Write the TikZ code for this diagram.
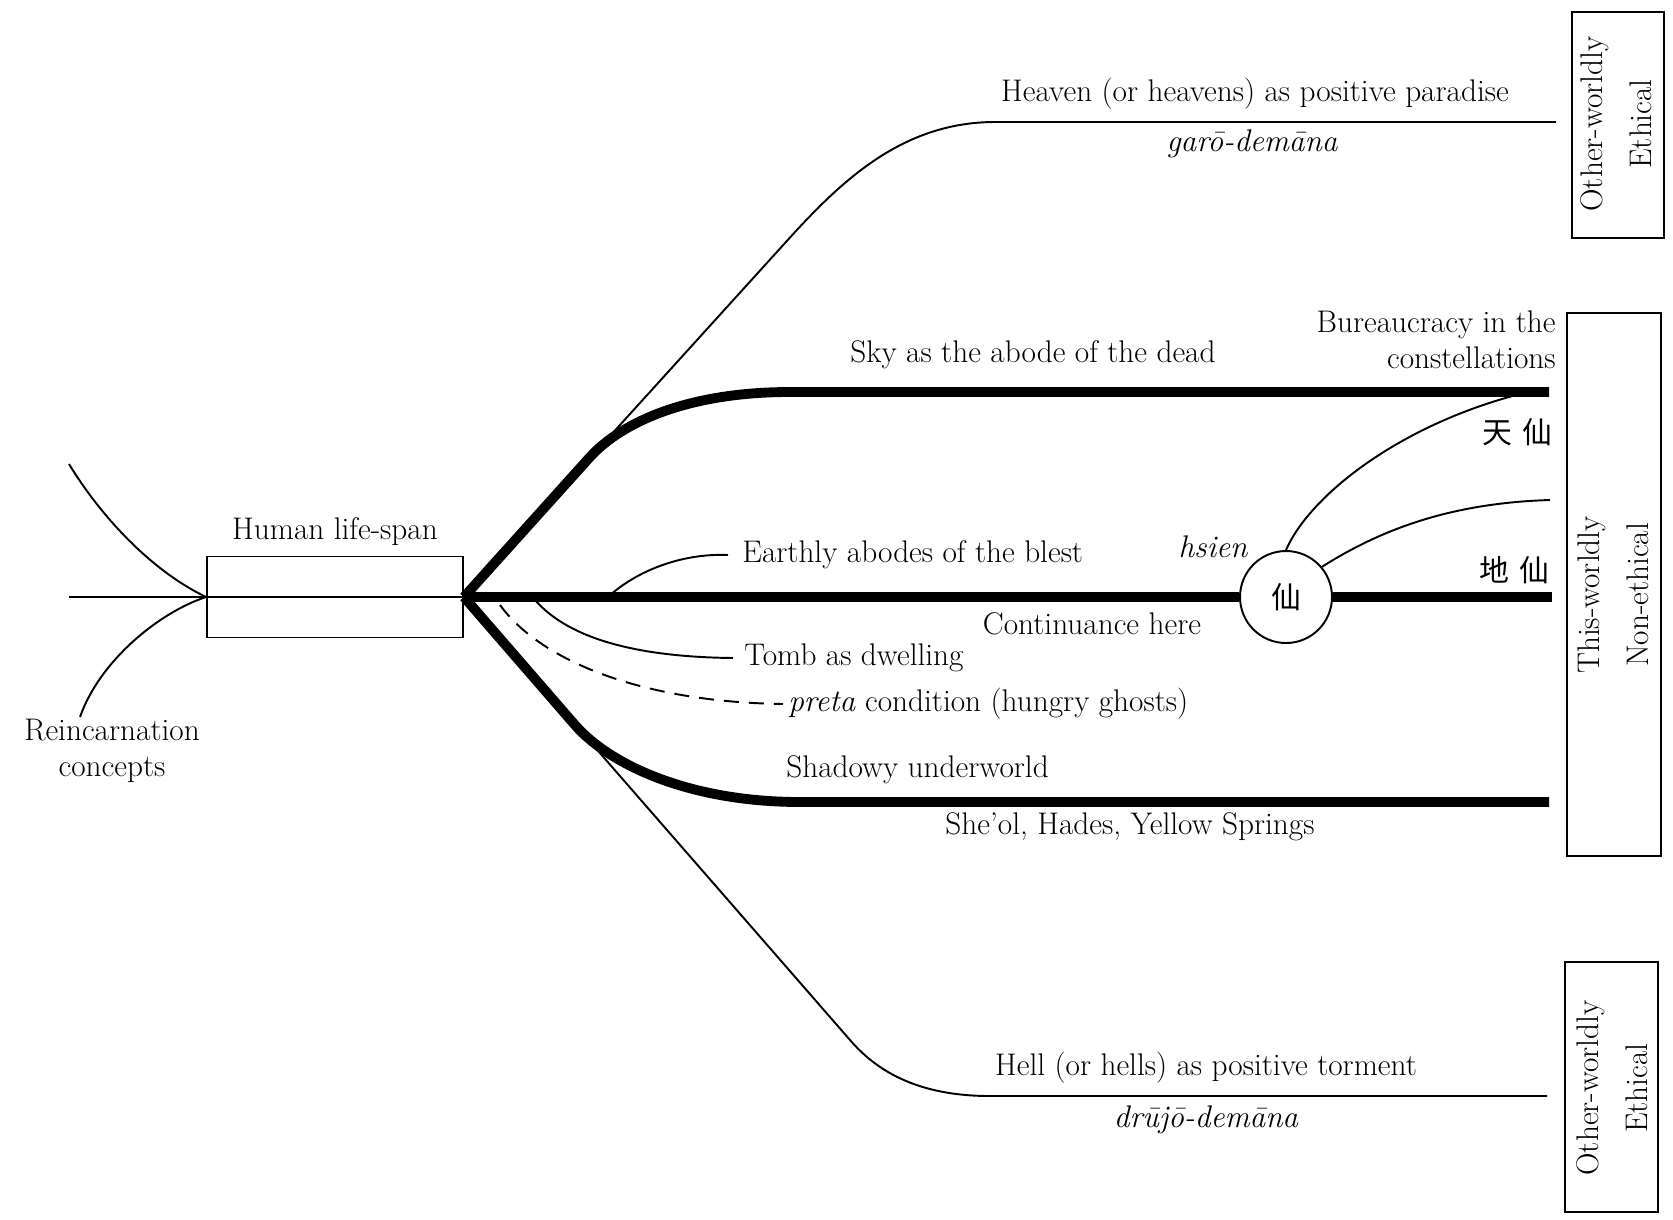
\documentclass[tikz,border=0pt]{standalone}
\usepackage{fontspec}
\newfontfamily\cjk{Noto Sans CJK TC}
\usetikzlibrary{positioning}
\tikzset{
  thinline/.style={line width=1.1pt},
  thickline/.style={line width=5.6pt},
  lbl/.style={inner sep=0pt, font=\fontsize{17.8}{20.5}\selectfont},
  ilbl/.style={inner sep=0pt, font=\fontsize{17.8}{20.5}\selectfont\itshape},
  hanzi/.style={inner sep=0pt, font=\fontsize{17}{19}\selectfont\cjk},
  realm/.style={draw, line width=1.1pt},
  realmtext/.style={lbl, rotate=90, align=center}
}
\begin{document}
\begin{tikzpicture}[x=0.2mm, y=-0.2mm]
	\useasboundingbox (0,0) rectangle (1673,1219);
	% life-span box and reincarnation
	\node[draw, thinline, minimum width=51.2mm, minimum height=16.2mm, inner sep=0pt] (life) at (335,597) {};
	\node[lbl, above=2mm of life] (lifetxt) {Human life-span};
	\coordinate (reincin) at (69,597);
	\coordinate (reincup) at (69,464);
	\coordinate (reincdown) at (80,717);
	\draw[thinline] (reincin) -- (life.east);
	\draw[thinline] (reincup) .. controls (100,515) and (150,570) .. (life.west);
	\draw[thinline] (life.west) .. controls (160,612) and (100,660) .. (reincdown);
	\node[lbl, align=center] (reinc) at (112,751) {Reincarnation\\concepts};
	% branches upward
	\coordinate (heavenend) at (1556,122);
	\coordinate (skyend) at (1549,392);
	\draw[thinline] (life.east) -- (795,232) .. controls (845,178) and (905,122) .. (995,122) -- (heavenend);
	\draw[thickline] (life.east) -- (590,457) .. controls (623,421) and (690,392) .. (790,392) -- (skyend);
	\node[lbl] (heaven) at (1255,94) {Heaven (or heavens) as positive paradise};
	\node[ilbl] (garo) at (1252,144) {garō-demāna};
	\node[lbl] (sky) at (1033,355) {Sky as the abode of the dead};
	\node[lbl, align=right, anchor=east] (bureau) at (1556,340) {Bureaucracy in the\\constellations};
	% continuance here and hsien
	\node[circle, draw, thinline, minimum size=18.4mm, inner sep=0pt, hanzi] (xian) at (1286,597) {仙};
	\coordinate (hereend) at (1552,597);
	\draw[thickline] (life.east) -- (xian.west);
	\draw[thickline] (xian.east) -- (hereend);
	\draw[thinline] (xian.north) .. controls (1310,495) and (1400,425) .. (1520,394);
	\draw[thinline] (xian.40) .. controls (1380,530) and (1450,503) .. (1550,500);
	\node[hanzi, anchor=east] (tianxian) at (1553,432) {天\hspace{0.35em}仙};
	\node[hanzi, anchor=east] (dixian) at (1550,570) {地\hspace{0.35em}仙};
	\node[ilbl] (hsien) at (1213,547) {hsien};
	\node[lbl] (cont) at (1092,624) {Continuance here};
	\node[lbl, anchor=west] (earthly) at (742,555) {Earthly abodes of the blest};
	\node[lbl, anchor=west] (tomb) at (744,658) {Tomb as dwelling};
	\node[lbl, anchor=west] (preta) at (788,704) {\textit{preta} condition (hungry ghosts)};
	\draw[thinline] (608,597) .. controls (635,572) and (680,553) .. ([xshift=-2.8mm]earthly.west);
	\draw[thinline] (535,600) .. controls (570,640) and (640,657) .. ([xshift=-2.2mm]tomb.west);
	\draw[thinline, dash pattern=on 3mm off 2mm] (500,605) .. controls (540,660) and (640,702) .. ([xshift=-1mm]preta.west);
	% branches downward
	\coordinate (underend) at (1549,802);
	\coordinate (hellend) at (1547,1096);
	\draw[thickline] (life.east) -- (575,725) .. controls (610,765) and (690,802) .. (800,802) -- (underend);
	\draw[thinline] (life.east) -- (850,1040) .. controls (875,1069) and (915,1096) .. (990,1096) -- (hellend);
	\node[lbl, anchor=west] (shadowy) at (786,770) {Shadowy underworld};
	\node[lbl] (sheol) at (1130,827) {She’ol, Hades, Yellow Springs};
	\node[lbl] (hell) at (1206,1068) {Hell (or hells) as positive torment};
	\node[ilbl] (drujo) at (1206,1120) {drūjō-demāna};
	% realms on the right
	\draw[realm] (1572,12) rectangle (1664,238);
	\node[realmtext] (realmtop) at (1616,124) {Other-worldly\\[2.6mm]Ethical};
	\draw[realm] (1567,313) rectangle (1661,856);
	\node[realmtext] (realmmid) at (1613,595) {This-worldly\\[2.6mm]Non-ethical};
	\draw[realm] (1565,962) rectangle (1658,1212);
	\node[realmtext] (realmbot) at (1612,1088) {Other-worldly\\[2.6mm]Ethical};
\end{tikzpicture}
\end{document}
